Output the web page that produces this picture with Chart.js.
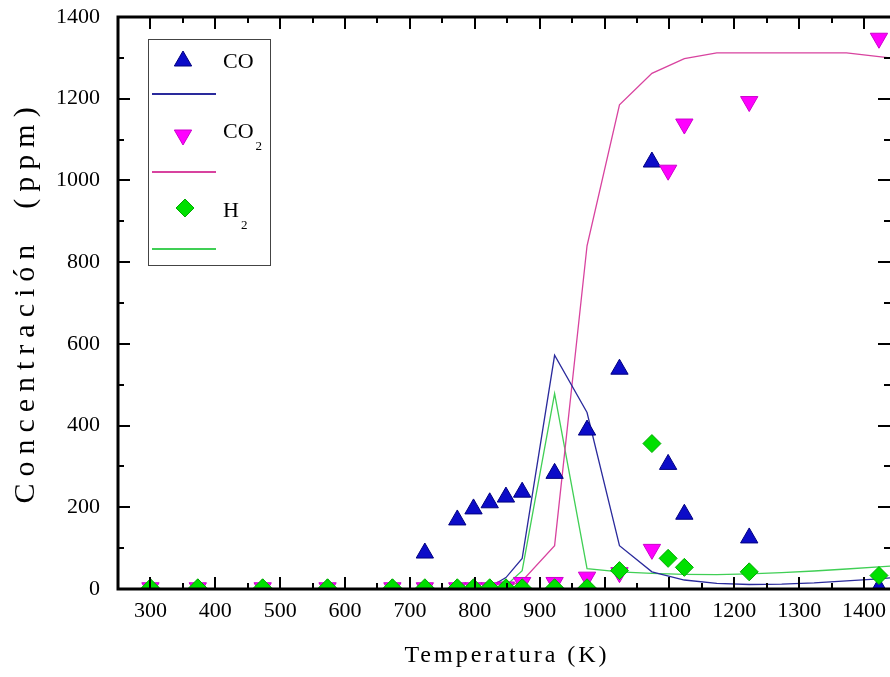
<!DOCTYPE html>
<html>
<head>
<meta charset="utf-8">
<script src="https://cdn.jsdelivr.net/npm/chart.js@4.4.1/dist/chart.umd.min.js"></script>
<style>
  html, body { margin: 0; padding: 0; background: #fff; }
  #grafico { display: block; }
</style>
</head>
<body>
<canvas id="grafico" width="890" height="677"></canvas>
<script>
// temperaturas das medidas (K)
const temperaturas = [300, 373, 473, 573, 673, 723, 773, 798, 823, 848, 873, 923, 973, 1023, 1073, 1098, 1123, 1223, 1423];
const co  = [0, 0, 0, 0, 0, 88, 169, 196, 211, 225, 237, 283, 389, 538, 1045, 305, 183, 125, 3];
const co2 = [3, 3, 3, 3, 3, 3, 3, 3, 3, 5, 16, 16, 29, 40, 97, 1025, 1138, 1193, 1348];
const h2  = [3, 3, 3, 3, 3, 3, 3, 3, 3, 3, 3, 3, 3, 45, 356, 75, 53, 42, 33];

// curvas do modelo
const tModelo   = [300, 373, 473, 573, 673, 723, 773, 798, 823, 848, 873, 923, 973, 1023, 1073, 1123, 1173, 1223, 1273, 1323, 1373, 1423, 1440];
const coModelo  = [0, 0, 0, 0, 0, 0, 0, 0, 5, 28, 75, 572, 432, 106, 42, 22, 14, 11, 12, 15, 20, 25, 27];
const co2Modelo = [0, 0, 0, 0, 0, 0, 0, 0, 0, 4, 20, 106, 840, 1185, 1262, 1298, 1312, 1312, 1312, 1312, 1312, 1303, 1300];
const h2Modelo  = [0, 0, 0, 0, 0, 0, 0, 0, 0, 8, 45, 478, 50, 42, 38, 36, 35, 37, 40, 44, 49, 54, 56];

// marcas dos eixos
const xTicks = [300, 400, 500, 600, 700, 800, 900, 1000, 1100, 1200, 1300, 1400];
const yTicks = [0, 200, 400, 600, 800, 1000, 1200, 1400];

const cores = {
    co: '#0c0cc8', coBorda: '#000080', coLinha: '#2a2a9c',
    co2: '#ff00ff', co2Borda: '#cc00cc', co2Linha: '#d8439f',
    h2: '#00e000', h2Borda: '#00aa00', h2Linha: '#40cf55'
};

const pares = (xs, ys) => xs.map((x, i) => ({ x: x, y: ys[i] }));

// eixos com marcas para dentro (estilo Origin)
const eixosPlugin = {
    id: 'eixos',
    afterDatasetsDraw(chart) {
        const { ctx, chartArea: a, scales: { x, y } } = chart;
        ctx.save();
        ctx.strokeStyle = '#000';
        ctx.lineWidth = 2;
        const linha = (x1, y1, x2, y2) => { ctx.beginPath(); ctx.moveTo(x1, y1); ctx.lineTo(x2, y2); ctx.stroke(); };
        for (let v = 300; v <= 1400; v += 50) {
            const px = Math.round(x.getPixelForValue(v));
            const len = v % 100 === 0 ? 12 : 6;
            linha(px, a.bottom, px, a.bottom - len);
            linha(px, a.top, px, a.top + len);
        }
        for (let v = 100; v < 1400; v += 100) {
            const py = Math.round(y.getPixelForValue(v));
            const len = v % 200 === 0 ? 12 : 6;
            linha(a.left, py, a.left + len, py);
            linha(a.right, py, a.right - len, py);
        }
        ctx.lineWidth = 3;
        ctx.beginPath();
        ctx.moveTo(a.right + 2, a.top);
        ctx.lineTo(a.left, a.top);
        ctx.lineTo(a.left, a.bottom);
        ctx.lineTo(a.right + 2, a.bottom);
        ctx.stroke();
        ctx.restore();
    },
    afterDraw(chart) {
        const ctx = chart.ctx;
        ctx.save();
        ctx.fillStyle = '#000';
        // titulo eixo x
        ctx.font = '24px "Liberation Serif", "Times New Roman", serif';
        ctx.letterSpacing = '3px';
        ctx.textAlign = 'center';
        ctx.textBaseline = 'alphabetic';
        ctx.fillText('Temperatura (K)', 507, 662);
        // titulo eixo y
        ctx.font = '30px "Liberation Serif", "Times New Roman", serif';
        ctx.letterSpacing = '7px';
        ctx.translate(34, 302);
        ctx.rotate(-Math.PI / 2);
        ctx.fillText('Concentración  (ppm)', 0, 0);
        ctx.restore();
    }
};

// legenda dentro do grafico
const legendaPlugin = {
    id: 'legenda',
    afterDraw(chart) {
        const ctx = chart.ctx;
        const dp = Chart.helpers.drawPoint;
        ctx.save();
        ctx.fillStyle = '#fff';
        ctx.fillRect(148, 39, 122, 226);
        ctx.strokeStyle = '#444';
        ctx.lineWidth = 1;
        ctx.strokeRect(148.5, 39.5, 122, 226);

        const simbolo = (estilo, rot, r, fundo, borda, x, y) => {
            ctx.fillStyle = fundo;
            ctx.strokeStyle = borda;
            ctx.lineWidth = 1;
            dp(ctx, { pointStyle: estilo, rotation: rot, radius: r, borderWidth: 1 }, x, y);
        };
        const traco = (cor, y) => {
            ctx.strokeStyle = cor;
            ctx.lineWidth = 2;
            ctx.beginPath(); ctx.moveTo(152, y); ctx.lineTo(216, y); ctx.stroke();
        };
        const texto = (t, sub, y) => {
            ctx.fillStyle = '#000';
            ctx.font = '22px "Liberation Serif", "Times New Roman", serif';
            ctx.textAlign = 'left';
            ctx.textBaseline = 'alphabetic';
            ctx.fillText(t, 223, y);
            if (sub) {
                const w = ctx.measureText(t).width;
                ctx.font = '13px "Liberation Serif", "Times New Roman", serif';
                ctx.fillText(sub, 223 + w + 2, y + 12);
            }
        };

        simbolo('triangle', 0, 10, cores.co, cores.coBorda, 183, 61);
        texto('CO', '', 68);
        traco(cores.coLinha, 94);

        simbolo('triangle', 180, 10, cores.co2, cores.co2Borda, 183, 135);
        texto('CO', '2', 138);
        traco(cores.co2Linha, 172);

        simbolo('rectRot', 0, 9, cores.h2, cores.h2Borda, 185, 208);
        texto('H', '2', 217);
        traco(cores.h2Linha, 249);
        ctx.restore();
    }
};

const fonteTicks = { family: '"Liberation Serif", "Times New Roman", serif', size: 22 };
const zero = () => ({ left: 0, top: 0, right: 0, bottom: 0 });
const semPadding = s => { s.paddingLeft = 0; s.paddingRight = 0; s.paddingTop = 0; s.paddingBottom = 0; s.getPadding = zero; };

const ctx = document.getElementById('grafico').getContext('2d');
const grafico = new Chart(ctx, {
    type: 'scatter',
    data: {
        datasets: [
            {
                label: 'H2',
                data: pares(temperaturas, h2),
                pointStyle: 'rectRot',
                pointRadius: 9,
                backgroundColor: cores.h2,
                borderColor: cores.h2Borda,
                borderWidth: 1,
                order: 1
            },
            {
                label: 'CO2',
                data: pares(temperaturas, co2),
                pointStyle: 'triangle',
                rotation: 180,
                pointRadius: 10,
                backgroundColor: cores.co2,
                borderColor: cores.co2Borda,
                borderWidth: 1,
                order: 2
            },
            {
                label: 'CO',
                data: pares(temperaturas, co),
                pointStyle: 'triangle',
                pointRadius: 10,
                backgroundColor: cores.co,
                borderColor: cores.coBorda,
                borderWidth: 1,
                order: 3
            },
            {
                label: 'CO modelo',
                data: pares(tModelo, coModelo),
                showLine: true,
                pointRadius: 0,
                borderColor: cores.coLinha,
                borderWidth: 1.3,
                order: 4
            },
            {
                label: 'CO2 modelo',
                data: pares(tModelo, co2Modelo),
                showLine: true,
                pointRadius: 0,
                borderColor: cores.co2Linha,
                borderWidth: 1.3,
                order: 5
            },
            {
                label: 'H2 modelo',
                data: pares(tModelo, h2Modelo),
                showLine: true,
                pointRadius: 0,
                borderColor: cores.h2Linha,
                borderWidth: 1.3,
                order: 6
            }
        ]
    },
    options: {
        responsive: false,
        animation: false,
        devicePixelRatio: 1,
        layout: { padding: { top: 17, right: 0, left: 0, bottom: 0 }, autoPadding: false },
        plugins: {
            legend: { display: false },
            tooltip: { enabled: false }
        },
        scales: {
            x: {
                type: 'linear',
                min: 250,
                max: 1440,
                afterBuildTicks: s => { s.ticks = xTicks.map(v => ({ value: v })); },
                afterFit: s => { s.height = 88; semPadding(s); },
                grid: { display: false, drawTicks: false },
                border: { display: false },
                ticks: { font: fonteTicks, color: '#000', padding: 9, maxRotation: 0, autoSkip: false, callback: v => String(v) }
            },
            y: {
                min: 0,
                max: 1400,
                afterBuildTicks: s => { s.ticks = yTicks.map(v => ({ value: v })); },
                afterFit: s => { s.width = 118; semPadding(s); },
                grid: { display: false, drawTicks: false },
                border: { display: false },
                ticks: { font: fonteTicks, color: '#000', padding: 18, callback: v => String(v) }
            }
        }
    },
    plugins: [eixosPlugin, legendaPlugin]
});
</script>
</body>
</html>
